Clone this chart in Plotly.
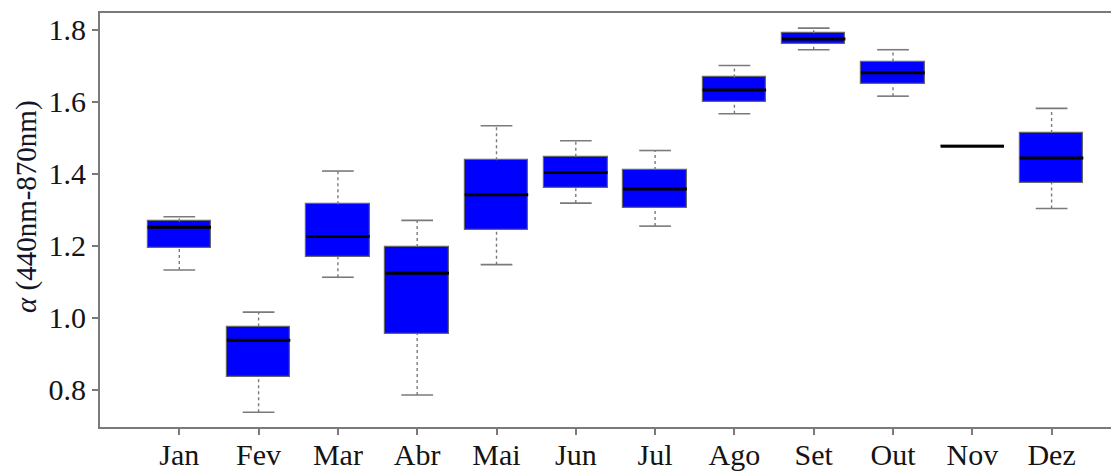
import plotly.graph_objects as go

months = ["Jan", "Fev", "Mar", "Abr", "Mai", "Jun", "Jul", "Ago", "Set", "Out", "Nov", "Dez"]
lower = [1.133, 0.738, 1.113, 0.786, 1.148, 1.319, 1.255, 1.567, 1.745, 1.616, 1.477, 1.304]
q1 = [1.194, 0.837, 1.170, 0.956, 1.245, 1.360, 1.306, 1.601, 1.761, 1.649, 1.477, 1.375]
median = [1.252, 0.938, 1.226, 1.124, 1.342, 1.404, 1.358, 1.633, 1.775, 1.681, 1.477, 1.444]
q3 = [1.268, 0.976, 1.316, 1.197, 1.438, 1.448, 1.411, 1.668, 1.791, 1.712, 1.477, 1.514]
upper = [1.281, 1.016, 1.408, 1.271, 1.534, 1.492, 1.465, 1.701, 1.805, 1.745, 1.477, 1.582]
yticks = [0.8, 1.0, 1.2, 1.4, 1.6, 1.8]
ytick_labels = ["0.8", "1.0", "1.2", "1.4", "1.6", "1.8"]
ytitle = "<i>α</i> (440nm-870nm)"

pos = list(range(1, len(months) + 1))
BOX_HALF = 0.4
CAP_HALF = 0.2
GRAY = "#7a7a7a"
FONT = "Liberation Serif"
TEXT = "#141414"

fig = go.Figure()

# whiskers (dotted)
wx, wy = [], []
for p, lo, a, b, hi in zip(pos, lower, q1, q3, upper):
    if hi > b:
        wx += [p, p, None]
        wy += [b, hi, None]
    if lo < a:
        wx += [p, p, None]
        wy += [lo, a, None]
fig.add_trace(go.Scatter(x=wx, y=wy, mode="lines",
                         line=dict(color=GRAY, width=1.4, dash="dot"),
                         hoverinfo="skip", showlegend=False))

# caps
cx, cy = [], []
for p, lo, a, b, hi in zip(pos, lower, q1, q3, upper):
    if hi > b:
        cx += [p - CAP_HALF, p + CAP_HALF, None]
        cy += [hi, hi, None]
    if lo < a:
        cx += [p - CAP_HALF, p + CAP_HALF, None]
        cy += [lo, lo, None]
fig.add_trace(go.Scatter(x=cx, y=cy, mode="lines",
                         line=dict(color=GRAY, width=1.6),
                         hoverinfo="skip", showlegend=False))

# boxes
fig.add_trace(go.Bar(x=pos, y=[b - a for a, b in zip(q1, q3)], base=q1,
                     width=2 * BOX_HALF,
                     marker=dict(color="#0000ff", line=dict(color="#666666", width=1.2)),
                     hoverinfo="skip", showlegend=False))

# medians
mx, my = [], []
for p, m in zip(pos, median):
    mx += [p - BOX_HALF, p + BOX_HALF, None]
    my += [m, m, None]
fig.add_trace(go.Scatter(x=mx, y=my, mode="lines",
                         line=dict(color="#000000", width=3),
                         hoverinfo="skip", showlegend=False))

# page body has an 8px margin: figure is 1111x463 so it fills the 1119x471 window
fig.update_layout(
    width=1111, height=463,
    margin=dict(l=92, r=0, t=5, b=44, autoexpand=False),
    paper_bgcolor="white", plot_bgcolor="white",
    font=dict(family=FONT, size=30, color=TEXT),
    showlegend=False,
    bargap=0,
    annotations=[dict(text=ytitle, textangle=-90, xref="paper", yref="paper",
                      x=0, y=0.5, xanchor="center", yanchor="middle",
                      xshift=-74, yshift=13, showarrow=False,
                      font=dict(family=FONT, size=29, color="#14142a"))],
)
fig.update_xaxes(
    range=[0, 12.85], tickmode="array", tickvals=pos, ticktext=months,
    showgrid=False, zeroline=False, automargin=False,
    showline=True, linecolor=GRAY, linewidth=2, mirror=True,
    ticks="outside", ticklen=6, tickwidth=1.5, tickcolor=GRAY,
    tickfont=dict(family=FONT, size=30, color=TEXT),
    ticklabelstandoff=-6,
)
fig.update_yaxes(
    range=[0.697, 1.847], tickmode="array", tickvals=yticks, ticktext=ytick_labels,
    showgrid=False, zeroline=False, automargin=False,
    showline=True, linecolor=GRAY, linewidth=2, mirror=False,
    ticks="outside", ticklen=6, tickwidth=1.5, tickcolor=GRAY,
    tickfont=dict(family=FONT, size=30, color=TEXT),
)

fig.write_html("out.html")
